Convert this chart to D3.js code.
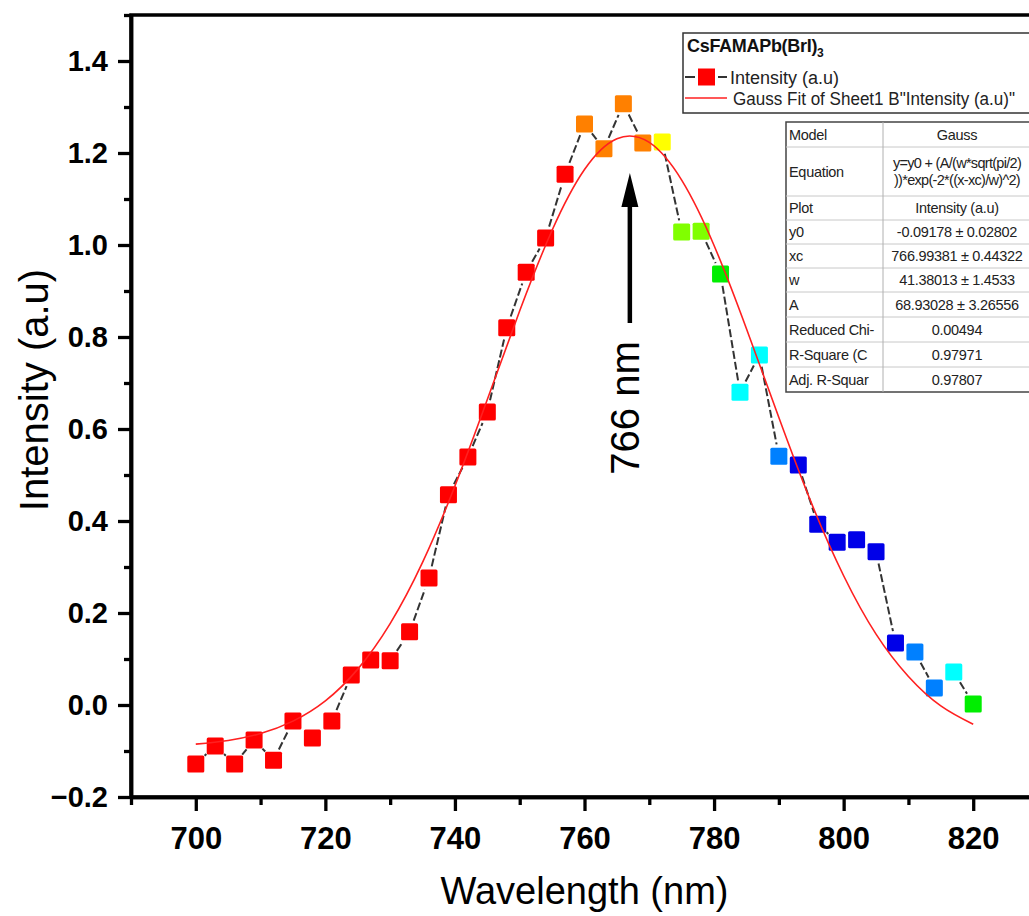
<!DOCTYPE html>
<html>
<head>
<meta charset="utf-8">
<script src="https://cdn.jsdelivr.net/npm/d3@7"></script>
<style>
  body { margin: 0; background: #fff; }
  svg { display: block; font-family: "Liberation Sans", Arial, sans-serif; }
</style>
</head>
<body>
<div class="chart"></div>
<script>
// measured points (wavelength in nm, intensity in a.u)
const wavelength = [700, 703, 706, 709, 712, 715, 718, 721, 724, 727, 730, 733, 736, 739,
    742, 745, 748, 751, 754, 757, 760, 763, 766, 769, 772, 775, 778, 781, 784, 787,
    790, 793, 796, 799, 802, 805, 808, 811, 814, 817, 820]
const intensity = [-0.128, -0.089, -0.128, -0.076, -0.12, -0.035, -0.072, -0.035, 0.065, 0.098,
    0.096, 0.159, 0.276, 0.457, 0.539, 0.637, 0.82, 0.941, 1.015, 1.154, 1.263, 1.209, 1.307,
    1.222, 1.224, 1.028, 1.03, 0.937, 0.68, 0.761, 0.541, 0.522, 0.393, 0.354, 0.359, 0.333,
    0.135, 0.115, 0.037, 0.072, 0.002]
const pointColors = ["#ff0000", "#ff0000", "#ff0000", "#ff0000", "#ff0000", "#ff0000", "#ff0000",
    "#ff0000", "#ff0000", "#ff0000", "#ff0000", "#ff0000", "#ff0000", "#ff0000", "#ff0000",
    "#ff0000", "#ff0000", "#ff0000", "#ff0000", "#ff0000", "#ff8000", "#ff8000", "#ff8000",
    "#ff8000", "#ffff00", "#80ff00", "#80ff00", "#00ee00", "#00ffff", "#00ffff", "#0080ff",
    "#0000e8", "#0000e8", "#0000e8", "#0000e8", "#0000e8", "#0000e8", "#0080ff", "#0080ff",
    "#00ffff", "#00ee00"]

// gauss fit curve, every 5 nm
const fitWavelength = [700, 705, 710, 715, 720, 725, 730, 735, 740, 745, 750, 755, 760, 765,
    770, 775, 780, 785, 790, 795, 800, 805, 810, 815, 820]
const fitIntensity = [-0.085, -0.077, -0.062, -0.035, 0.009, 0.078, 0.177, 0.31, 0.476, 0.664,
    0.857, 1.032, 1.164, 1.231, 1.223, 1.141, 0.999, 0.818, 0.625, 0.44, 0.281, 0.154, 0.062,
    -0.002, -0.042]

const xTicks = [700, 720, 740, 760, 780, 800, 820]
const xMinor = [690, 710, 730, 750, 770, 790, 810, 830]
const yTicks = [-0.2, 0, 0.2, 0.4, 0.6, 0.8, 1.0, 1.2, 1.4]
const yMinor = [-0.1, 0.1, 0.3, 0.5, 0.7, 0.9, 1.1, 1.3, 1.5]

const peakLabel = "766 nm"
const peakAt = 767

const tableLabels = ["Model", "Equation", "Plot", "y0", "xc", "w", "A", "Reduced Chi-", "R-Square (C", "Adj. R-Squar"]
const tableValues = ["Gauss", "y=y0 + (A/(w*sqrt(pi/2)|))*exp(-2*((x-xc)/w)^2)", "Intensity (a.u)",
    "-0.09178 ± 0.02802", "766.99381 ± 0.44322", "41.38013 ± 1.4533", "68.93028 ± 3.26556",
    "0.00494", "0.97971", "0.97807"]

const W = 1029, H = 916
const plotLeft = 131, plotRight = 1038, plotTop = 15, plotBottom = 797

const svg = d3.select(".chart")
    .append("svg")
    .attr("width", W)
    .attr("height", H)

svg.append("rect").attr("width", W).attr("height", H).attr("fill", "#fff")

const x = d3.scaleLinear().domain([690, 830]).range([plotLeft, plotRight])
const y = d3.scaleLinear().domain([-0.2, 1.5]).range([plotBottom, plotTop])

// frame
svg.append("rect")
    .attr("x", plotLeft).attr("y", plotTop)
    .attr("width", plotRight - plotLeft).attr("height", plotBottom - plotTop)
    .attr("fill", "none").attr("stroke", "#000").attr("stroke-width", 3.5)

// axes
const yAxis = svg.append("g")
    .attr("transform", `translate(${plotLeft},0)`)
    .call(d3.axisLeft(y).tickValues(yTicks).tickSize(13).tickSizeOuter(0).tickPadding(10)
        .tickFormat(d3.format(".1f")))
const yMinorAxis = svg.append("g")
    .attr("transform", `translate(${plotLeft},0)`)
    .call(d3.axisLeft(y).tickValues(yMinor).tickSize(7).tickSizeOuter(0).tickFormat(""))

const xAxis = svg.append("g")
    .attr("transform", `translate(0,${plotBottom})`)
    .call(d3.axisBottom(x).tickValues(xTicks).tickSize(14).tickSizeOuter(0).tickPadding(16))
const xMinorAxis = svg.append("g")
    .attr("transform", `translate(0,${plotBottom})`)
    .call(d3.axisBottom(x).tickValues(xMinor).tickSize(8).tickSizeOuter(0).tickFormat(""))

svg.selectAll(".domain").attr("stroke", "#000").attr("stroke-width", 3.5)
svg.selectAll(".tick line").attr("stroke", "#000").attr("stroke-width", 3.3)

yAxis.selectAll("text")
    .attr("font-size", 29).attr("font-weight", "bold").attr("fill", "#000")
    .attr("font-family", "'Liberation Sans', Arial, sans-serif")
xAxis.selectAll("text")
    .attr("font-size", 31).attr("font-weight", "bold").attr("fill", "#000")
    .attr("font-family", "'Liberation Sans', Arial, sans-serif")

// axis titles
svg.append("text")
    .attr("x", (plotLeft + plotRight) / 2)
    .attr("y", 904)
    .attr("text-anchor", "middle")
    .attr("font-size", 38)
    .text("Wavelength (nm)")

svg.append("text")
    .attr("transform", "translate(48,390) rotate(-90)")
    .attr("text-anchor", "middle")
    .attr("font-size", 40)
    .text("Intensity (a.u)")

// dashed connecting line with a gap at each symbol
const pts = wavelength.map((w, i) => ({ px: x(w), py: y(intensity[i]), color: pointColors[i] }))
const gap = 12
const segs = []
for (let i = 0; i < pts.length - 1; i++) {
    const a = pts[i], b = pts[i + 1]
    const dx = b.px - a.px, dy = b.py - a.py
    const len = Math.sqrt(dx * dx + dy * dy)
    if (len > gap * 2 + 2) {
        const ux = dx / len, uy = dy / len
        segs.push({ x1: a.px + ux * gap, y1: a.py + uy * gap, x2: b.px - ux * gap, y2: b.py - uy * gap })
    }
}
svg.append("g").selectAll("line")
    .data(segs)
    .enter()
    .append("line")
    .attr("x1", d => d.x1).attr("y1", d => d.y1)
    .attr("x2", d => d.x2).attr("y2", d => d.y2)
    .style("stroke", "#333")
    .style("stroke-width", 2)
    .style("stroke-dasharray", "8,3")

// square markers
const size = 17
svg.append("g").selectAll("rect")
    .data(pts)
    .enter()
    .append("rect")
    .attr("x", d => d.px - size / 2)
    .attr("y", d => d.py - size / 2)
    .attr("width", size).attr("height", size)
    .attr("rx", 1.5)
    .attr("fill", d => d.color)

// gauss fit
const fitLine = d3.line()
    .x((d, i) => x(d))
    .y((d, i) => y(fitIntensity[i]))
    .curve(d3.curveNatural)
svg.append("path")
    .datum(fitWavelength)
    .attr("d", fitLine)
    .attr("fill", "none")
    .attr("stroke", "#ff2020")
    .attr("stroke-width", 1.6)

// peak arrow + label
const ax = x(peakAt)
const tipY = 173, baseY = 207, endY = 323
svg.append("line")
    .attr("x1", ax).attr("x2", ax)
    .attr("y1", baseY - 2).attr("y2", endY)
    .attr("stroke", "#000").attr("stroke-width", 4.5)
svg.append("path")
    .attr("d", `M${ax},${tipY} L${ax - 8.5},${baseY} L${ax + 8.5},${baseY} Z`)
    .attr("fill", "#000")
svg.append("text")
    .attr("transform", `translate(${ax + 9},408) rotate(-90)`)
    .attr("text-anchor", "middle")
    .attr("font-size", 40)
    .text(peakLabel)

// legend
const lg = svg.append("g")
lg.append("rect")
    .attr("x", 683).attr("y", 33).attr("width", 400).attr("height", 80)
    .attr("fill", "#fff").attr("stroke", "#333").attr("stroke-width", 1.5)
const title = lg.append("text").attr("x", 687).attr("y", 52)
    .attr("font-size", 18).attr("font-weight", "bold").attr("fill", "#111")
    .attr("letter-spacing", -0.3)
title.append("tspan").text("CsFAMAPb(BrI)")
title.append("tspan").attr("font-size", 12).attr("dy", 5).text("3")

lg.append("line").attr("x1", 685).attr("x2", 695).attr("y1", 77).attr("y2", 77)
    .attr("stroke", "#333").attr("stroke-width", 2)
lg.append("line").attr("x1", 718).attr("x2", 727).attr("y1", 77).attr("y2", 77)
    .attr("stroke", "#333").attr("stroke-width", 2)
lg.append("rect").attr("x", 698).attr("y", 68.5).attr("width", 17).attr("height", 17)
    .attr("fill", "#ff0000")
lg.append("text").attr("x", 730).attr("y", 84).attr("font-size", 18).attr("fill", "#222")
    .text("Intensity (a.u)")
lg.append("line").attr("x1", 685).attr("x2", 727).attr("y1", 98).attr("y2", 98)
    .attr("stroke", "#ff2020").attr("stroke-width", 1.6)
lg.append("text").attr("x", 733).attr("y", 105).attr("font-size", 17.5).attr("fill", "#222")
    .attr("textLength", 282).attr("lengthAdjust", "spacingAndGlyphs")
    .text("Gauss Fit of Sheet1 B\"Intensity (a.u)\"")

// fit results table
const tb = svg.append("g")
const tLeft = 786, tTop = 122, tRight = 1031, tDiv = 883
const rowH = [25, 49, 24, 24, 24, 24, 25, 25, 25, 25]
const rowY = [tTop]
rowH.forEach(h => rowY.push(rowY[rowY.length - 1] + h))

tb.append("rect")
    .attr("x", tLeft).attr("y", tTop)
    .attr("width", tRight - tLeft).attr("height", rowY[rowY.length - 1] - tTop)
    .attr("fill", "#fff").attr("stroke", "#444").attr("stroke-width", 1.5)
tb.selectAll(".rowline")
    .data(rowY.slice(1, -1))
    .enter()
    .append("line")
    .attr("x1", tLeft).attr("x2", tRight)
    .attr("y1", d => d).attr("y2", d => d)
    .attr("stroke", "#c8c8c8").attr("stroke-width", 1)
tb.append("line").attr("x1", tDiv).attr("x2", tDiv).attr("y1", tTop).attr("y2", rowY[rowY.length - 1])
    .attr("stroke", "#b0b0b0").attr("stroke-width", 1)

tableLabels.forEach((lab, i) => {
    const cy = (rowY[i] + rowY[i + 1]) / 2
    tb.append("text")
        .attr("x", tLeft + 3).attr("y", cy + 5)
        .attr("font-size", 14.5).attr("fill", "#222").attr("letter-spacing", -0.3)
        .text(lab)
    const parts = tableValues[i].split("|")
    parts.forEach((p, j) => {
        tb.append("text")
            .attr("x", (tDiv + tRight) / 2)
            .attr("y", cy + 5 + (j - (parts.length - 1) / 2) * 17)
            .attr("text-anchor", "middle")
            .attr("font-size", 14.5)
            .attr("letter-spacing", parts.length > 1 ? -0.7 : -0.3)
            .attr("fill", "#222")
            .text(p)
    })
})
</script>
</body>
</html>
